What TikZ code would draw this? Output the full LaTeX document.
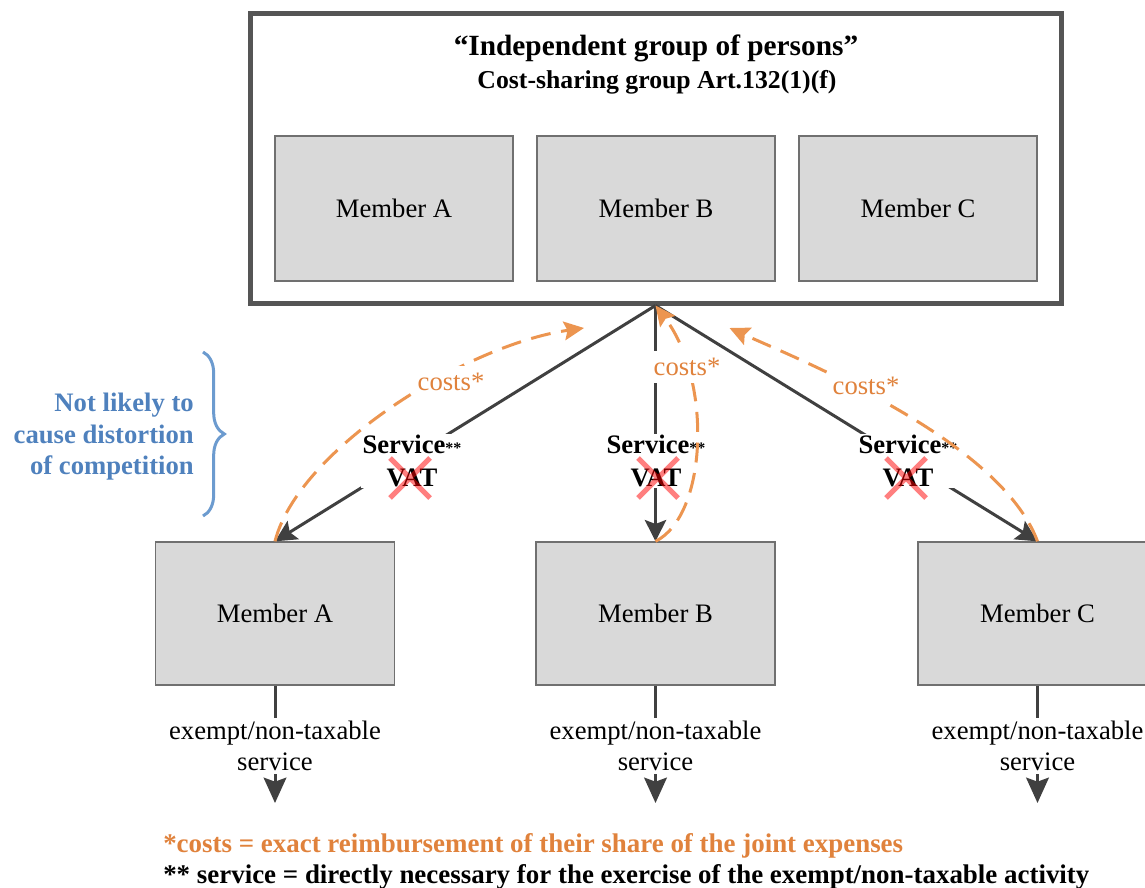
\documentclass[tikz,border=0pt]{standalone}
\usepackage{fontspec}
\setmainfont{Liberation Serif}
\usetikzlibrary{arrows.meta,decorations.pathreplacing}
\definecolor{linegray}{HTML}{404040}
\definecolor{framegray}{HTML}{555555}
\definecolor{boxborder}{HTML}{707070}
\definecolor{boxfill}{HTML}{D9D9D9}
\definecolor{orangeline}{HTML}{EC9550}
\definecolor{orangetext}{HTML}{E0823C}
\definecolor{bluetext}{HTML}{4F81BD}
\definecolor{bluebrace}{HTML}{6C9BCF}
\begin{document}
\begin{tikzpicture}[x=0.75pt,y=-0.75pt,
  member/.style={draw=boxborder, fill=boxfill, line width=1pt, inner sep=0pt,
    font=\fontsize{20}{24}\selectfont},
  inmember/.style={member, minimum width=178.5pt, minimum height=108.75pt},
  lowmember/.style={member, minimum width=179.25pt, minimum height=107.25pt},
  svc/.style={draw=linegray, line width=2.25pt, -{Stealth[length=16pt,width=16pt,inset=3pt]}},
  costline/.style={draw=orangeline, line width=2.25pt, dash pattern=on 15pt off 8pt,
    -{Stealth[length=15pt,width=14pt,inset=2.5pt]}},
  svclabel/.style={fill=white, align=center, inner sep=1pt,
    font=\bfseries\fontsize{20}{25}\selectfont},
  costlabel/.style={fill=white, text=orangetext, inner xsep=1pt, inner ysep=5pt,
    font=\fontsize{20}{24}\selectfont},
  exempt/.style={fill=white, align=center, inner sep=2pt,
    font=\fontsize{20}{23.25}\selectfont},
  xmark/.style={draw=red, draw opacity=0.5, line width=3.75pt},
  footnote/.style={anchor=west, inner sep=0pt, font=\bfseries\fontsize{20.2}{24}\selectfont}
]
\useasboundingbox (0,0) rectangle (1145,888);
\clip (0,0) rectangle (1145,888);

% group frame
\node[draw=framegray, line width=3.75pt, fill=white, minimum width=608.25pt,
      minimum height=216.75pt, inner sep=0pt] (group) at (655.5,158.5) {};
\node[font=\bfseries\fontsize{22}{26}\selectfont] (title) at (656,48) {“Independent group of persons”};
\node[font=\bfseries\fontsize{19.3}{23}\selectfont] (subtitle) at (657,82) {Cost-sharing group Art.132(1)(f)};

\node[inmember] (inA) at (394,208.5) {Member A};
\node[inmember] (inB) at (656,208.5) {Member B};
\node[inmember] (inC) at (918,208.5) {Member C};

% lower members
\node[lowmember] (lowA) at (275,613.5) {Member A};
\node[lowmember] (lowB) at (655.5,613.5) {Member B};
\node[lowmember] (lowC) at (1037.5,613.5) {Member C};

% service connectors
\draw[svc] (group.south) -- (lowA.north);
\draw[svc] (group.south) -- (lowB.north);
\draw[svc] (group.south) -- (lowC.north);

\node[svclabel] (svcA) at (412,461) {Service{\fontsize{12}{12}\selectfont**}\\VAT};
\node[svclabel] (svcB) at (656,461) {Service{\fontsize{12}{12}\selectfont**}\\VAT};
\node[svclabel] (svcC) at (908,461) {Service{\fontsize{12}{12}\selectfont**}\\VAT};

% cost connectors
\coordinate (tipA) at (584,328);
\coordinate (tipC) at (729.5,328);
\draw[costline] (lowA.north) .. controls (298,450) and (465,345) .. (tipA);
\draw[costline] (lowB.north) .. controls (708,515) and (712,380) .. (group.south);
\draw[costline] (lowC.north) .. controls (1000,440) and (800,360) .. (tipC);

\node[costlabel] (costA) at (451,382) {costs*};
\node[costlabel] (costB) at (687,367) {costs*};
\node[costlabel] (costC) at (866,386) {costs*};

% crossed-out VAT
\draw[xmark] (390,458) -- (430,498) (390,498) -- (430,458);
\draw[xmark] (638,458) -- (678,498) (638,498) -- (678,458);
\draw[xmark] (886,458) -- (926,498) (886,498) -- (926,458);

% brace and note
\draw[bluebrace, line width=2.25pt, decorate, decoration={brace, amplitude=16pt}] (203,352) -- (203,516);
\node[anchor=east, align=right, text=bluetext, inner sep=0pt,
      font=\bfseries\fontsize{20}{23.6}\selectfont] (note) at (194,437)
      {Not likely to\\cause distortion\\of competition};

% outgoing exempt services
\coordinate (endA) at (275,803);
\coordinate (endB) at (655.5,803);
\coordinate (endC) at (1037.5,803);
\draw[svc, -{Stealth[length=19pt,width=17pt,inset=3pt]}] (lowA.south) -- (endA);
\draw[svc, -{Stealth[length=19pt,width=17pt,inset=3pt]}] (lowB.south) -- (endB);
\draw[svc, -{Stealth[length=19pt,width=17pt,inset=3pt]}] (lowC.south) -- (endC);
\node[exempt] (exA) at (275,746) {exempt/non-taxable\\service};
\node[exempt] (exB) at (655.5,746) {exempt/non-taxable\\service};
\node[exempt] (exC) at (1037.5,746) {exempt/non-taxable\\service};

% footnotes
\node[footnote, text=orangetext] (fn1) at (163,846) {*costs = exact reimbursement of their share of the joint expenses};
\node[footnote, text=black] (fn2) at (163,877) {** service = directly necessary for the exercise of the exempt/non-taxable activity};
\end{tikzpicture}
\end{document}
